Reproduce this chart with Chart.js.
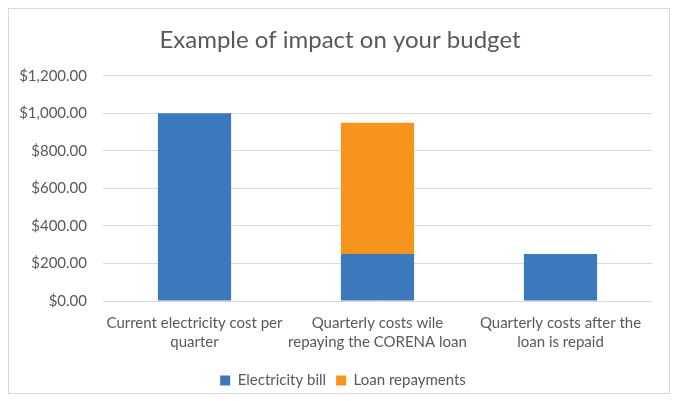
<!DOCTYPE html>
<html lang="en">
<head>
    <meta charset="UTF-8">
    <title>Example of impact on your budget</title>
    <script src="https://cdn.jsdelivr.net/npm/chart.js"></script>
    <style>
        body {
            margin: 0;
            background: #ffffff;
            font-family: Lato, sans-serif;
        }
        .frame {
            position: absolute;
            left: 8px;
            top: 8px;
            width: 660px;
            height: 384px;
            border: 1px solid #d9d9d9;
        }
        .wrap {
            position: absolute;
            left: 0;
            top: 0;
            width: 675px;
            height: 401px;
        }
    </style>
</head>
<body>
    <div class="frame"></div>
    <div class="wrap"><canvas id="budgetChart" width="675" height="401"></canvas></div>

    <script>
        // data
        const categories = [
            ['Current electricity cost per', 'quarter'],
            ['Quarterly costs wile', 'repaying the CORENA loan'],
            ['Quarterly costs after the', 'loan is repaid']
        ];
        const electricityBill = [1000, 250, 250];
        const loanRepayments = [0, 700, 0];

        const textColor = '#595959';
        const gridColor = '#d9d9d9';

        // nudge title and legend a little right, like the original
        const centerShift = {
            id: 'centerShift',
            afterLayout(chart) {
                chart.legend.left += 34;
                chart.titleBlock.left += 28;
            }
        };

        const ctx = document.getElementById('budgetChart').getContext('2d');
        const chart = new Chart(ctx, {
            type: 'bar',
            data: {
                labels: categories,
                datasets: [
                    {
                        label: 'Electricity bill',
                        data: electricityBill,
                        backgroundColor: '#3b78bd',
                        barPercentage: 0.4,
                        categoryPercentage: 1
                    },
                    {
                        label: 'Loan repayments',
                        data: loanRepayments,
                        backgroundColor: '#f7941d',
                        barPercentage: 0.4,
                        categoryPercentage: 1
                    }
                ]
            },
            plugins: [centerShift],
            options: {
                responsive: false,
                animation: false,
                layout: {
                    padding: { left: 0, right: 23, top: 26, bottom: 3 }
                },
                plugins: {
                    title: {
                        display: true,
                        text: 'Example of impact on your budget',
                        color: textColor,
                        font: { family: 'Lato', size: 24, weight: 'normal' },
                        padding: { top: 0, bottom: 21 }
                    },
                    legend: {
                        position: 'bottom',
                        labels: {
                            color: textColor,
                            font: { family: 'Lato', size: 15 },
                            boxWidth: 10,
                            boxHeight: 10,
                            padding: 10
                        }
                    },
                    tooltip: { enabled: false }
                },
                scales: {
                    x: {
                        stacked: true,
                        grid: { display: false, drawTicks: false },
                        border: { display: false },
                        afterFit: scale => { scale.height = 62; },
                        ticks: {
                            color: textColor,
                            font: { family: 'Lato', size: 15, lineHeight: 1.27 },
                            padding: 13,
                            maxRotation: 0,
                            autoSkip: false
                        }
                    },
                    y: {
                        stacked: true,
                        min: 0,
                        max: 1200,
                        grid: { color: gridColor, drawTicks: false },
                        border: { display: false },
                        afterFit: scale => { scale.width = 103; },
                        ticks: {
                            stepSize: 200,
                            color: textColor,
                            font: { family: 'Lato', size: 15 },
                            padding: 16,
                            callback: v => '$' + v.toLocaleString('en-US', { minimumFractionDigits: 2, maximumFractionDigits: 2 })
                        }
                    }
                }
            }
        });
    </script>
</body>
</html>
